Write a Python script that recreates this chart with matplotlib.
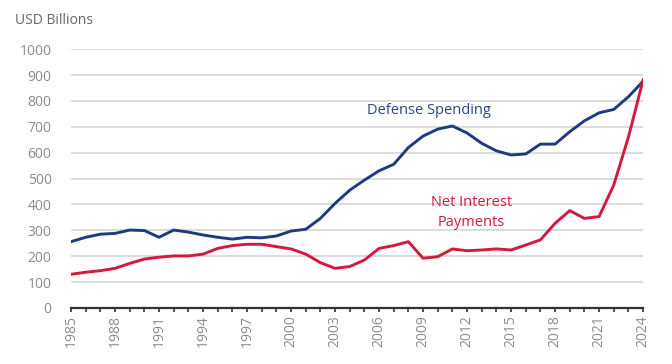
import matplotlib
matplotlib.use("Agg")
import matplotlib.pyplot as plt
from matplotlib.ticker import MultipleLocator

plt.rcParams['font.family'] = ['Open Sans', 'DejaVu Sans']

years = list(range(1985, 2025))
defense = [256, 273, 285, 288, 301, 299, 273, 301, 293, 282,
           273, 266, 273, 271, 278, 297, 304, 346, 404, 455,
           494, 530, 555, 620, 664, 691, 703, 676, 636, 607,
           591, 595, 633, 633, 681, 723, 754, 767, 816, 876]
interest = [130, 138, 144, 153, 172, 189, 196, 201, 201, 208,
            230, 241, 246, 246, 237, 228, 208, 175, 153, 160,
            185, 230, 241, 256, 192, 198, 228, 221, 224, 228,
            224, 243, 263, 327, 376, 346, 353, 475, 660, 881]
yticks = [0, 100, 200, 300, 400, 500, 600, 700, 800, 900, 1000]
xtick_years = list(range(1985, 2025, 3))

navy = '#1f3b7e'
red = '#d4193f'
gray = '#8c8c8c'

fig = plt.figure(figsize=(6.72, 3.64), dpi=100)
ax = fig.add_axes([0.1057, 0.154, 0.8513, 0.711])

for y in yticks[1:]:
    ax.axhline(y, color='#dcdcdc', lw=1.4, zorder=1)

ax.plot(years, defense, color=navy, lw=2.1, zorder=3, solid_joinstyle='round')
ax.plot(years, interest, color=red, lw=2.1, zorder=3, solid_joinstyle='round')

ax.set_xlim(1985, 2024)
ax.set_ylim(0, 1000)
ax.set_yticks(yticks)
ax.set_xticks(xtick_years)
ax.xaxis.set_minor_locator(MultipleLocator(1))

for s in ['top', 'right', 'left']:
    ax.spines[s].set_visible(False)
ax.spines['bottom'].set_color('#333333')
ax.spines['bottom'].set_linewidth(1.6)
ax.spines['bottom'].set_zorder(4)

ax.tick_params(axis='y', length=0, pad=14, labelsize=10, labelcolor=gray)
ax.tick_params(axis='x', which='major', length=3, width=1.2, color='#333333',
               labelsize=10, labelcolor=gray, labelrotation=90, pad=2)
ax.tick_params(axis='x', which='minor', length=3, width=1.2, color='#333333')

fig.text(0.022, 0.945, 'USD Billions', fontsize=10, color='#666666', ha='left', va='center')
ax.text(2005.2, 764, 'Defense Spending', fontsize=10.5, color='#2a4787', ha='left', va='center')
ax.text(2012.3, 369, 'Net Interest\nPayments', fontsize=10.5, color=red, ha='center',
        va='center', linespacing=1.4)

fig.savefig('out.png', dpi=100)
